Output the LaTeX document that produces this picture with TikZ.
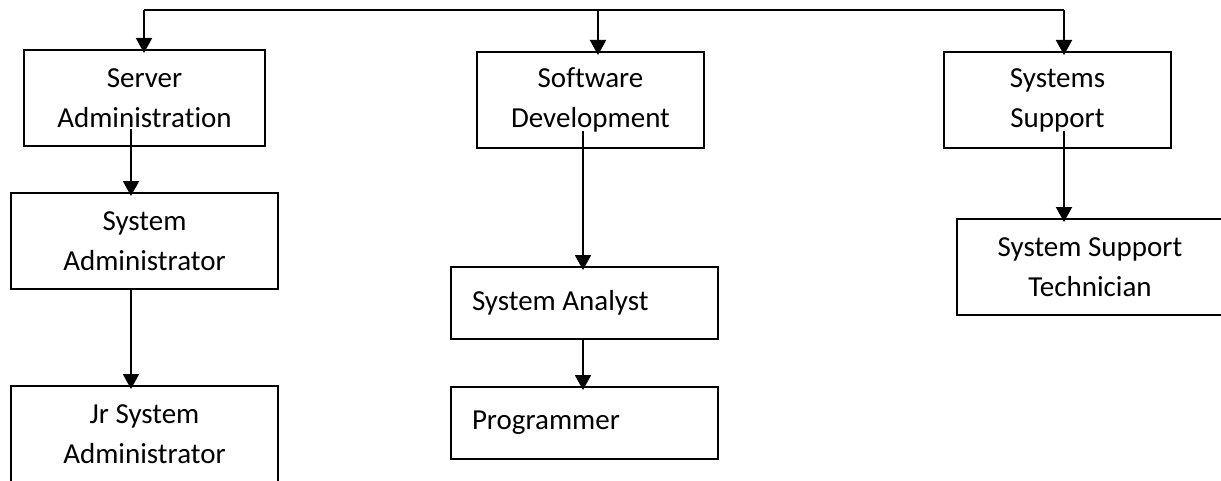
\documentclass[tikz,border=0pt]{standalone}
\usepackage{fontspec}
\setmainfont{Carlito}[Ligatures=NoCommon]
\usepackage{tikz}
\usetikzlibrary{arrows.meta,positioning}
\tikzset{
  dept/.style={rectangle,draw=black,line width=1pt,minimum height=48pt,
               align=center,inner sep=0pt,font=\fontsize{14.5}{20}\selectfont},
  role/.style={rectangle,draw=black,line width=1pt,minimum height=36pt,
               text width=112.5pt,inner xsep=10.5pt,inner ysep=0pt,align=flush left,
               font=\fontsize{14.5}{20}\selectfont},
  arr/.style={-{Triangle[width=8pt,length=7.5pt]},line width=1pt,draw=black,shorten >=-2pt},
}

\begin{document}
\begin{tikzpicture}[x=0.5pt,y=-0.5pt]
  \useasboundingbox (0,0) rectangle (1221,481);
  % departments
  \node[dept,minimum width=120.5pt] (srv) at (144.5,98) {Server\\Administration};
  \node[dept,minimum width=113.5pt] (dev) at (590.5,100) {Software\\Development};
  \node[dept,minimum width=113.5pt] (sup) at (1057.5,100) {Systems\\Support};
  % roles
  \node[dept,minimum width=133.5pt] (sadm) at (144.5,241) {System\\Administrator};
  \node[dept,minimum width=133.5pt] (jadm) at (144.5,434) {Jr System\\Administrator};
  \node[role] (ana) at (584.5,303) {System Analyst};
  \node[role] (prog) at (584.5,423) {Programmer};
  \node[dept,minimum width=133pt] (tech) at (1090,267) {System Support\\Technician};

  % top bus
  \coordinate (bus w) at (144,10);
  \coordinate (bus m) at (598,10);
  \coordinate (bus e) at (1064,10);
  \draw[line width=1pt] (bus w) -- (bus e);
  \draw[arr] (bus w) -- (bus w |- srv.north);
  \draw[arr] (bus m) -- (bus m |- dev.north);
  \draw[arr] (bus e) -- (bus e |- sup.north);

  % down the columns
  \draw[arr] ([xshift=-6.75pt,yshift=9pt]srv.south) -- ([xshift=-6.75pt]sadm.north);
  \draw[arr] ([xshift=-6.75pt]sadm.south) -- ([xshift=-6.75pt]jadm.north);
  \draw[arr] ([xshift=-3.75pt,yshift=9pt]dev.south) -- ([xshift=-0.75pt]ana.north);
  \draw[arr] ([xshift=-0.75pt]ana.south) -- ([xshift=-0.75pt]prog.north);
  \draw[arr] ([xshift=3.25pt,yshift=9pt]sup.south) -- ([xshift=-13pt]tech.north);
\end{tikzpicture}
\end{document}
